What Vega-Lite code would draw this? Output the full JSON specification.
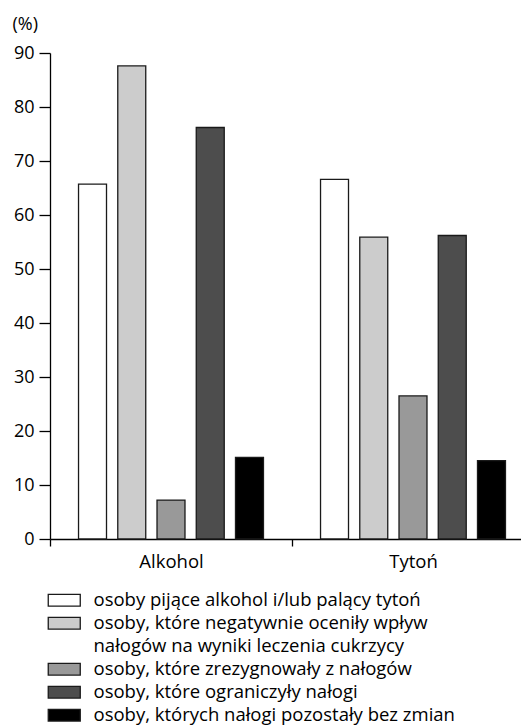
{
  "$schema": "https://vega.github.io/schema/vega-lite/v6.json",
  "width": 471,
  "height": 486,
  "autosize": {"type": "none"},
  "padding": {"left": 50, "top": 53, "right": 0, "bottom": 187},
  "background": "white",
  "config": {
    "font": "Open Sans",
    "view": {"stroke": null},
    "axis": {"domainColor": "black", "tickColor": "black", "labelColor": "black", "titleColor": "black", "domainWidth": 1.3, "tickWidth": 1.3, "grid": false}
  },
  "data": {
    "values": [
      {"grp": "Alkohol", "cat": "osoby pijące alkohol i/lub palący tytoń", "val": 65.7},
      {"grp": "Alkohol", "cat": "osoby, które negatywnie oceniły wpływ", "val": 87.6},
      {"grp": "Alkohol", "cat": "osoby, które zrezygnowały z nałogów", "val": 7.2},
      {"grp": "Alkohol", "cat": "osoby, które ograniczyły nałogi", "val": 76.2},
      {"grp": "Alkohol", "cat": "osoby, których nałogi pozostały bez zmian", "val": 15.1},
      {"grp": "Tytoń", "cat": "osoby pijące alkohol i/lub palący tytoń", "val": 66.6},
      {"grp": "Tytoń", "cat": "osoby, które negatywnie oceniły wpływ", "val": 55.9},
      {"grp": "Tytoń", "cat": "osoby, które zrezygnowały z nałogów", "val": 26.5},
      {"grp": "Tytoń", "cat": "osoby, które ograniczyły nałogi", "val": 56.2},
      {"grp": "Tytoń", "cat": "osoby, których nałogi pozostały bez zmian", "val": 14.5}
    ]
  },
  "mark": {"type": "bar", "strokeWidth": 1.3},
  "encoding": {
    "x": {
      "field": "grp", "type": "nominal", "sort": ["Alkohol", "Tytoń"],
      "scale": {"range": [0, 484], "paddingInner": 0, "paddingOuter": 0},
      "axis": {"title": null, "labelAngle": 0, "labelFontSize": 18.5, "labelPadding": 6, "tickSize": 7, "tickBand": "extent"}
    },
    "xOffset": {
      "field": "cat", "type": "nominal",
      "sort": ["osoby pijące alkohol i/lub palący tytoń", "osoby, które negatywnie oceniły wpływ", "osoby, które zrezygnowały z nałogów", "osoby, które ograniczyły nałogi", "osoby, których nałogi pozostały bez zmian"],
      "scale": {"paddingInner": 0.287, "paddingOuter": 0.727}
    },
    "y": {
      "field": "val", "type": "quantitative",
      "scale": {"domain": [0, 90], "nice": false},
      "axis": {"values": [0, 10, 20, 30, 40, 50, 60, 70, 80, 90], "title": "(%)", "titleAngle": 0, "titleAlign": "left", "titleBaseline": "alphabetic", "titleX": -38, "titleY": -24, "titleFontSize": 18, "titleFontWeight": "normal", "labelFontSize": 18, "tickSize": 11, "labelPadding": 5}
    },
    "fill": {
      "field": "cat", "type": "nominal",
      "scale": {
        "domain": ["osoby pijące alkohol i/lub palący tytoń", "osoby, które negatywnie oceniły wpływ", "nałogów na wyniki leczenia cukrzycy", "osoby, które zrezygnowały z nałogów", "osoby, które ograniczyły nałogi", "osoby, których nałogi pozostały bez zmian"],
        "range": ["#ffffff", "#cccccc", "transparent", "#999999", "#4d4d4d", "#000000"]
      },
      "legend": {
        "title": null, "orient": "none", "legendX": 5, "legendY": 538,
        "symbolType": "M-2,-0.73H2V0.73H-2Z", "symbolSize": 256, "symbolStrokeWidth": 1.3,
        "labelFontSize": 18.5, "labelColor": "black", "labelOffset": 20, "labelLimit": 0, "rowPadding": 4
      }
    },
    "stroke": {
      "field": "cat", "type": "nominal",
      "scale": {
        "domain": ["osoby pijące alkohol i/lub palący tytoń", "osoby, które negatywnie oceniły wpływ", "nałogów na wyniki leczenia cukrzycy", "osoby, które zrezygnowały z nałogów", "osoby, które ograniczyły nałogi", "osoby, których nałogi pozostały bez zmian"],
        "range": ["#1a1a1a", "#1a1a1a", "transparent", "#1a1a1a", "#1a1a1a", "#1a1a1a"]
      },
      "legend": {
        "title": null, "orient": "none", "legendX": 5, "legendY": 538,
        "symbolType": "M-2,-0.73H2V0.73H-2Z", "symbolSize": 256, "symbolStrokeWidth": 1.3,
        "labelFontSize": 18.5, "labelColor": "black", "labelOffset": 20, "labelLimit": 0, "rowPadding": 4
      }
    }
  }
}
